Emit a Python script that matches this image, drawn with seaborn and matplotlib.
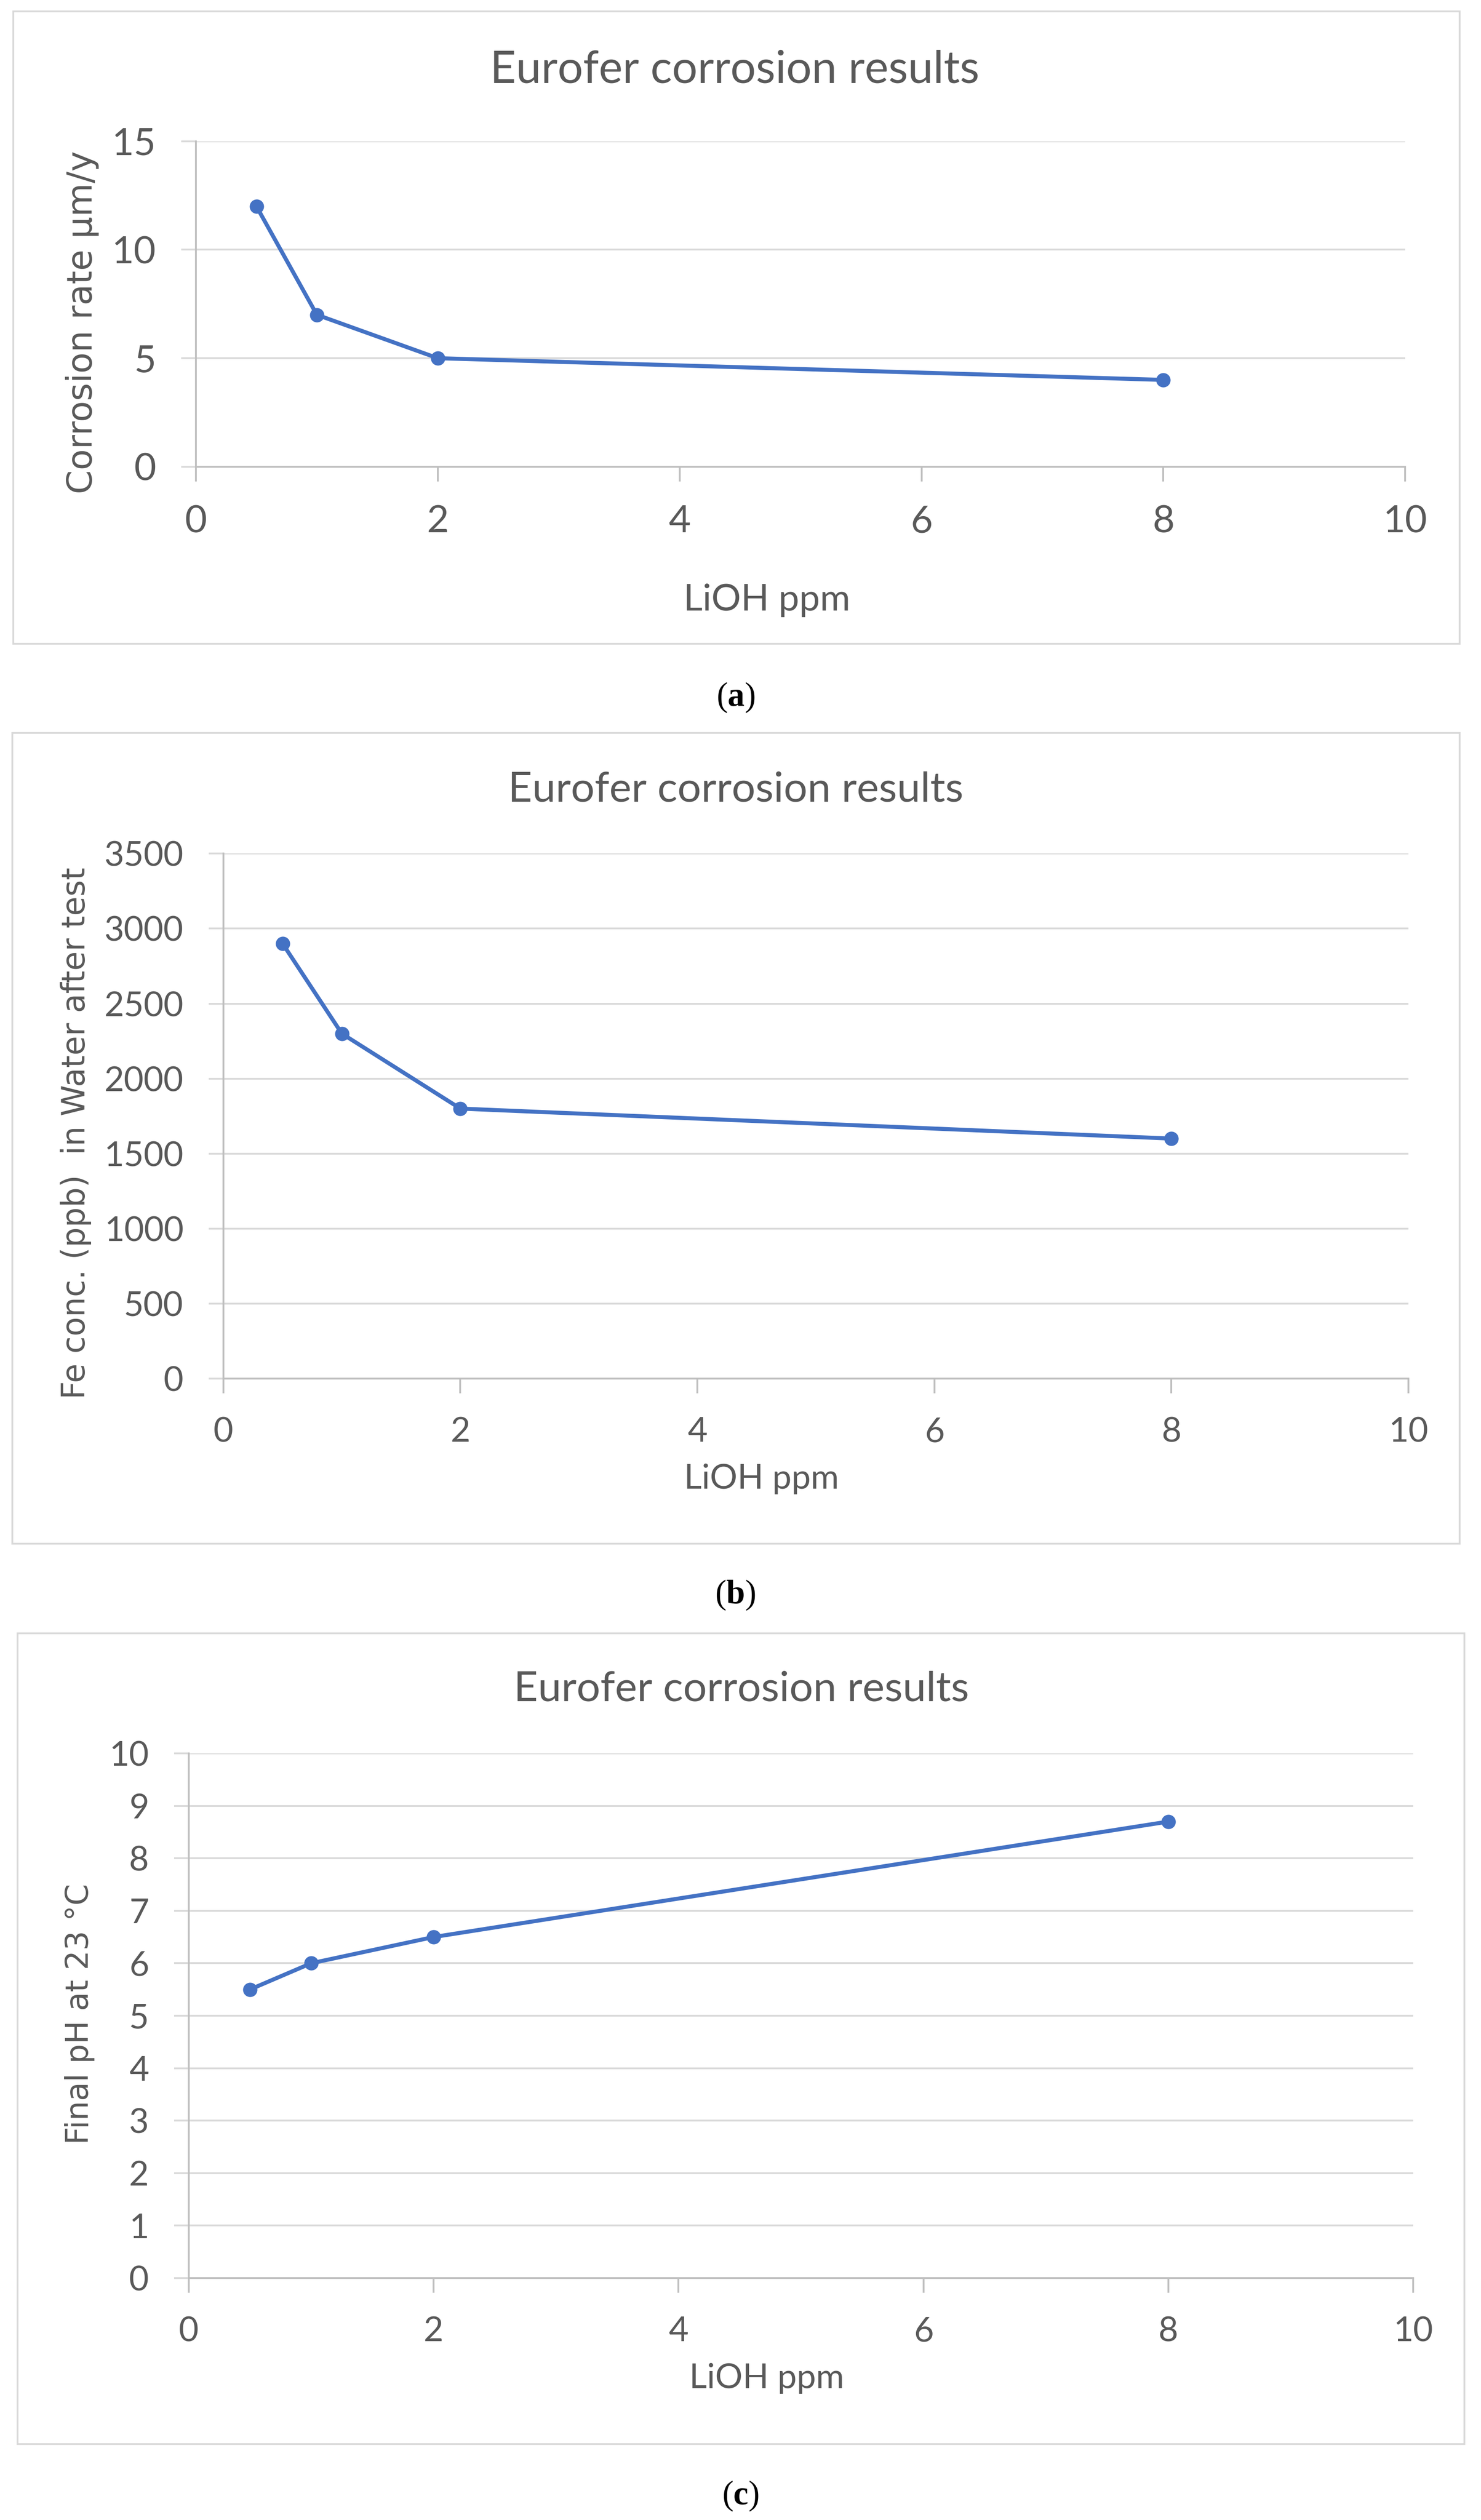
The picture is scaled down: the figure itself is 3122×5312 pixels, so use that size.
import matplotlib
matplotlib.use("Agg")
import matplotlib.pyplot as plt
from matplotlib.patches import Rectangle
import seaborn as sns

# data
lioh_ppm = [0.5, 1, 2, 8]
corrosion_rate = [12, 7, 5, 4]
fe_conc = [2900, 2300, 1800, 1600]
final_ph = [5.5, 6.0, 6.5, 8.7]

x_ticks = [0, 2, 4, 6, 8, 10]
rate_ticks = [0, 5, 10, 15]
fe_ticks = [0, 500, 1000, 1500, 2000, 2500, 3000, 3500]
ph_ticks = [0, 1, 2, 3, 4, 5, 6, 7, 8, 9, 10]

title = "Eurofer corrosion results"
xlabel = "LiOH ppm"
ylabels = ["Corrosion rate \u03bcm/y", "Fe conc. (ppb)  in Water after test", "Final pH at 23 \u00b0C"]
captions = ["a", "b", "c"]

sns.set_theme(style="white")
plt.rcParams["font.family"] = ["Lato", "DejaVu Sans"]
plt.rcParams["mathtext.fontset"] = "custom"
plt.rcParams["mathtext.rm"] = "Liberation Serif"
plt.rcParams["mathtext.bf"] = "Liberation Serif:bold"

BLUE = "#4472C4"
TEXT = "#595959"
GRID = "#D9D9D9"
AXIS = "#BFBFBF"

# layout in units of the reference page (919 x 1564)
W, H = 919.05, 1563.7
fig = plt.figure(figsize=(3122 / 340, 5312 / 340), dpi=340)


def fx(px):
    return px / W


def fy(py):
    return 1 - py / H


panels = [
    dict(y=corrosion_rate, ticks=rate_ticks, box=(8.2, 7.1, 905.8, 399.5), ax=(121.6, 87.6, 872, 289.6),
         title=(456, 51.4, 20.1), ylab=(51, 200, 15.4), xlab=(476, 379, 16.5), tick=17, cap=(456.6, 438)),
    dict(y=fe_conc, ticks=fe_ticks, box=(7.6, 454.8, 905.9, 958), ax=(138.6, 529.7, 874, 855.4),
         title=(456.5, 497.4, 18.7), ylab=(47, 703, 14.1), xlab=(472.6, 923.6, 15.3), tick=15.3, cap=(456.3, 995)),
    dict(y=final_ph, ticks=ph_ticks, box=(11, 1013.4, 908.8, 1516.6), ax=(117.1, 1088, 877, 1413.6),
         title=(460, 1055.5, 18.7), ylab=(49.5, 1249.5, 13.8), xlab=(475.7, 1482, 15.3), tick=15.3, cap=(459.4, 1554)),
]

for p, ylab, cap in zip(panels, ylabels, captions):
    bx0, by0, bx1, by1 = p["box"]
    fig.patches.append(Rectangle((fx(bx0), fy(by1)), fx(bx1) - fx(bx0), fy(by0) - fy(by1),
                                 transform=fig.transFigure, facecolor="none", edgecolor=GRID, lw=0.8))
    ax0, ay0, ax1, ay1 = p["ax"]
    ax = fig.add_axes([fx(ax0), fy(ay1), fx(ax1) - fx(ax0), fy(ay0) - fy(ay1)])
    ax.set_facecolor("none")

    sns.lineplot(x=lioh_ppm, y=p["y"], ax=ax, color=BLUE, linewidth=1.8, marker="o",
                 markersize=6.4, markeredgewidth=0, zorder=5, clip_on=False)

    ax.set_xlim(0, 10)
    ax.set_ylim(p["ticks"][0], p["ticks"][-1])
    ax.set_xticks(x_ticks)
    ax.set_yticks(p["ticks"])
    ax.yaxis.grid(True, color=GRID, linewidth=0.8)
    ax.xaxis.grid(False)
    for s in ["top", "right"]:
        ax.spines[s].set_visible(False)
    for s in ["left", "bottom"]:
        ax.spines[s].set_color(AXIS)
        ax.spines[s].set_linewidth(0.8)
    ax.tick_params(axis="x", bottom=True, length=6.5, width=0.8, color=AXIS, pad=10.5,
                   labelsize=p["tick"], labelcolor=TEXT)
    ax.tick_params(axis="y", left=True, length=6.5, width=0.8, color=GRID, pad=11.3,
                   labelsize=p["tick"], labelcolor=TEXT)

    tx, tyb, tsize = p["title"]
    fig.text(fx(tx), fy(tyb), title, ha="center", va="baseline", fontsize=tsize, color=TEXT)

    xx, xyb, xsize = p["xlab"]
    ax.set_xlabel(xlabel, fontsize=xsize, color=TEXT)
    ax.xaxis.set_label_coords((xx - ax0) / (ax1 - ax0), (ay1 - xyb) / (ay1 - ay0))
    ax.xaxis.label.set_va("baseline")

    yx, yy, ysize = p["ylab"]
    ax.set_ylabel(ylab, fontsize=ysize, color=TEXT, family="DejaVu Sans")
    ax.yaxis.set_label_coords((yx - ax0) / (ax1 - ax0), (ay1 - yy) / (ay1 - ay0))
    ax.yaxis.label.set_va("center")
    ax.yaxis.label.set_ha("center")

    cx, cyb = p["cap"]
    fig.text(fx(cx), fy(cyb), r"($\mathbf{" + cap + r"}$)", ha="center", va="baseline",
             fontsize=15, color="black", family="Liberation Serif")

fig.savefig("out.png", dpi=340, facecolor="white")
